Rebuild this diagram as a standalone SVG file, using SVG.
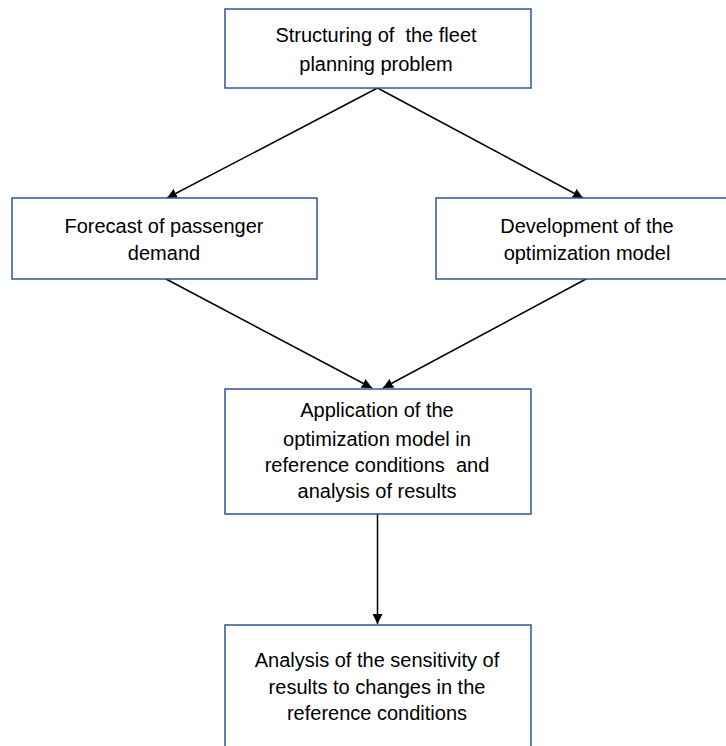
<svg xmlns="http://www.w3.org/2000/svg" width="726" height="746" viewBox="0 0 726 746">
<defs>
<marker id="ah" viewBox="0 0 10 10" refX="10" refY="5" markerWidth="10" markerHeight="10" markerUnits="userSpaceOnUse" orient="auto">
<path d="M0,0 L10,5 L0,10 z" fill="#000"/>
</marker>
<style>
.box{fill:#fff;stroke:#2F5597;stroke-width:1.5}
.lbl{font-family:"Liberation Sans",Arial,sans-serif;font-size:20px;fill:#000;text-anchor:middle;white-space:pre}
.con{stroke:#000;stroke-width:1.5;fill:none;marker-end:url(#ah)}
</style>
</defs>
<rect width="726" height="746" fill="#fff"/>
<g id="connectors">
<line class="con" x1="377.5" y1="88" x2="167" y2="198"/>
<line class="con" x1="377.5" y1="88" x2="583" y2="198"/>
<line class="con" x1="166" y1="279" x2="372" y2="388"/>
<line class="con" x1="586" y1="279" x2="383" y2="388"/>
<line class="con" x1="377.5" y1="514" x2="377.5" y2="624"/>
</g>
<g id="n1">
<rect class="box" x="225" y="9" width="306" height="79"/>
<text class="lbl" x="376" y="42" xml:space="preserve">Structuring of  the fleet</text>
<text class="lbl" x="376" y="71">planning problem</text>
</g>
<g id="n2">
<rect class="box" x="12" y="198" width="305" height="81"/>
<text class="lbl" x="164" y="233">Forecast of passenger</text>
<text class="lbl" x="164" y="260">demand</text>
</g>
<g id="n3">
<rect class="box" x="436" y="198" width="302" height="81"/>
<text class="lbl" x="587" y="233">Development of the</text>
<text class="lbl" x="587" y="260">optimization model</text>
</g>
<g id="n4">
<rect class="box" x="225" y="389" width="306" height="125"/>
<text class="lbl" x="377" y="417">Application of the</text>
<text class="lbl" x="377" y="446">optimization model in</text>
<text class="lbl" x="377" y="472" xml:space="preserve">reference conditions  and</text>
<text class="lbl" x="377" y="498">analysis of results</text>
</g>
<g id="n5">
<rect class="box" x="225" y="625" width="306" height="130"/>
<text class="lbl" x="377" y="667">Analysis of the sensitivity of</text>
<text class="lbl" x="377" y="694">results to changes in the</text>
<text class="lbl" x="377" y="720">reference conditions</text>
</g>
</svg>
